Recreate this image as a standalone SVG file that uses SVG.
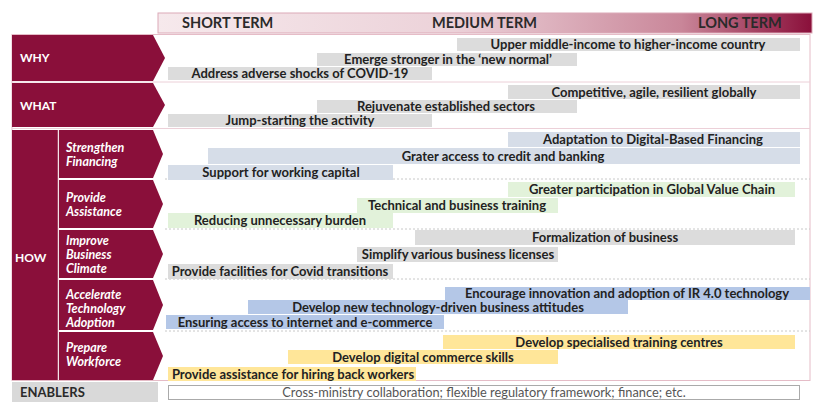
<svg xmlns="http://www.w3.org/2000/svg" width="814" height="402" viewBox="0 0 814 402">
<defs>
<linearGradient id="hdr" x1="0" y1="0" x2="1" y2="0">
<stop offset="0" stop-color="#f6e9ec"/>
<stop offset="0.45" stop-color="#ecd2d9"/>
<stop offset="0.8" stop-color="#c98699"/>
<stop offset="1" stop-color="#8a0f3a"/>
</linearGradient>
</defs>
<style>
.m{fill:#8a0f3a}
.sep{stroke:#f3e2e7;stroke-width:1.5}
.dot{stroke:#c8c8c8;stroke-width:1;stroke-dasharray:2 2}
.lbl{font-family:Lato,"Open Sans","Liberation Sans",sans-serif;font-weight:bold;font-size:12px;fill:#fff}
.sub{font-family:Lato,"Open Sans","Liberation Sans",sans-serif;font-weight:bold;font-style:italic;font-size:12.5px;fill:#fff}
.t{font-family:Lato,"Open Sans","Liberation Sans",sans-serif;font-weight:bold;font-size:13px;fill:#222;text-anchor:middle}
.h{font-family:Lato,"Open Sans","Liberation Sans",sans-serif;font-weight:bold;font-size:14.5px;fill:#2a2a2a}
.g{fill:#dcdcdc}.b{fill:#d6dde8}.gr{fill:#e2f2da}.bl{fill:#b4c7e7}.y{fill:#ffe699}
</style>
<rect width="814" height="402" fill="#fff"/>
<g id="header">
<rect x="158" y="13" width="654" height="20" fill="url(#hdr)" stroke="#dcaab8" stroke-width="1"/>
<text class="h" x="182" y="28">SHORT TERM</text>
<text class="h" x="432" y="28">MEDIUM TERM</text>
<text class="h" x="698" y="28">LONG TERM</text>
</g>
<g id="frame">
<rect x="12" y="34.5" width="798" height="346" fill="none" stroke="#e5bcc7" stroke-width="1"/>
<line x1="12" y1="82" x2="810" y2="82" stroke="#ecd0d8"/>
<line x1="12" y1="128.5" x2="810" y2="128.5" stroke="#ecd0d8"/>
</g>
<g id="connectors">
<line class="dot" x1="165" y1="179" x2="810" y2="179"/>
<line class="dot" x1="165" y1="229" x2="810" y2="229"/>
<line class="dot" x1="165" y1="279" x2="810" y2="279"/>
<line class="dot" x1="165" y1="331" x2="810" y2="331"/>
</g>
<g id="why">
<polygon class="m" points="12,35 153,35 165,58 153,81 12,81"/>
<text class="lbl" x="20" y="62">WHY</text>
<rect class="g" x="457" y="38" width="343" height="13"/>
<text class="t" x="628" y="49">Upper middle-income to higher-income country</text>
<rect class="g" x="317" y="53" width="260" height="13"/>
<text class="t" x="448" y="64">Emerge stronger in the ‘new normal’</text>
<rect class="g" x="168" y="67" width="264" height="13"/>
<text class="t" x="300" y="78">Address adverse shocks of COVID-19</text>
</g>
<g id="what">
<polygon class="m" points="12,83 153,83 165,105 153,127 12,127"/>
<text class="lbl" x="20" y="110">WHAT</text>
<rect class="g" x="508" y="85" width="292" height="14"/>
<text class="t" x="654" y="96.5">Competitive, agile, resilient globally</text>
<rect class="g" x="317" y="100" width="260" height="13"/>
<text class="t" x="446" y="111">Rejuvenate established sectors</text>
<rect class="g" x="168" y="114" width="264" height="13"/>
<text class="t" x="300" y="125">Jump-starting the activity</text>
</g>
<g id="how">
<rect class="m" x="12" y="130" width="46" height="250"/>
<text class="lbl" x="15" y="262">HOW</text>
<line class="sep" x1="58.5" y1="130" x2="58.5" y2="380"/>
</g>
<g id="financing">
<polygon class="m" points="59,130 153,130 163,154 153,178 59,178"/>
<text class="sub" x="66" y="152">Strengthen</text>
<text class="sub" x="66" y="166">Financing</text>
<rect class="b" x="508" y="132" width="292" height="15"/>
<text class="t" x="653" y="144">Adaptation to Digital-Based Financing</text>
<rect class="b" x="208" y="148" width="592" height="16"/>
<text class="t" x="503" y="160.5">Grater access to credit and banking</text>
<rect class="b" x="168" y="165" width="225" height="15"/>
<text class="t" x="281" y="177">Support for working capital</text>
</g>
<g id="assistance">
<polygon class="m" points="59,180 153,180 163,204 153,228 59,228"/>
<text class="sub" x="66" y="202">Provide</text>
<text class="sub" x="66" y="216">Assistance</text>
<rect class="gr" x="508" y="182" width="287" height="15"/>
<text class="t" x="652" y="194">Greater participation in Global Value Chain</text>
<rect class="gr" x="357" y="198" width="201" height="15"/>
<text class="t" x="457" y="210">Technical and business training</text>
<rect class="gr" x="168" y="213" width="225" height="15"/>
<text class="t" x="280" y="225">Reducing unnecessary burden</text>
</g>
<g id="climate">
<polygon class="m" points="59,230 153,230 163,254 153,278 59,278"/>
<text class="sub" x="66" y="245">Improve</text>
<text class="sub" x="66" y="259">Business</text>
<text class="sub" x="66" y="273">Climate</text>
<rect class="g" x="415" y="230" width="380" height="15"/>
<text class="t" x="605" y="242">Formalization of business</text>
<rect class="g" x="357" y="247" width="201" height="15"/>
<text class="t" x="458" y="259">Simplify various business licenses</text>
<rect class="g" x="168" y="264" width="225" height="15"/>
<text class="t" x="280" y="276">Provide facilities for Covid transitions</text>
</g>
<g id="technology">
<polygon class="m" points="59,280 153,280 163,305 153,330 59,330"/>
<text class="sub" x="66" y="299">Accelerate</text>
<text class="sub" x="66" y="313">Technology</text>
<text class="sub" x="66" y="327">Adoption</text>
<rect class="bl" x="445" y="287" width="365" height="13"/>
<text class="t" x="627" y="298">Encourage innovation and adoption of IR 4.0 technology</text>
<rect class="bl" x="248" y="300" width="380" height="14"/>
<text class="t" x="438" y="311.5">Develop new technology-driven business attitudes</text>
<rect class="bl" x="166" y="315" width="278" height="14"/>
<text class="t" x="305" y="326.5">Ensuring access to internet and e-commerce</text>
</g>
<g id="workforce">
<polygon class="m" points="59,332 153,332 163,356 153,380 59,380"/>
<text class="sub" x="66" y="352">Prepare</text>
<text class="sub" x="66" y="366">Workforce</text>
<rect class="y" x="443" y="335" width="352" height="14"/>
<text class="t" x="619" y="346.5">Develop specialised training centres</text>
<rect class="y" x="288" y="350" width="270" height="14"/>
<text class="t" x="423" y="361.5">Develop digital commerce skills</text>
<rect class="y" x="168" y="367" width="248" height="14"/>
<text class="t" x="293" y="378.5">Provide assistance for hiring back workers</text>
</g>
<g id="enablers">
<rect x="12" y="382" width="146" height="20" fill="#d9d9d9"/>
<text x="20" y="397" style="font-family:Lato,'Open Sans','Liberation Sans',sans-serif;font-weight:bold;font-size:13px;fill:#2a2a2a">ENABLERS</text>
<rect x="168.5" y="385.5" width="631" height="14" fill="#fff" stroke="#aaa" stroke-width="1"/>
<text x="484" y="396.5" text-anchor="middle" style="font-family:Lato,'Open Sans','Liberation Sans',sans-serif;font-size:12.8px;fill:#555">Cross-ministry collaboration; flexible regulatory framework; finance; etc.</text>
</g>
</svg>
